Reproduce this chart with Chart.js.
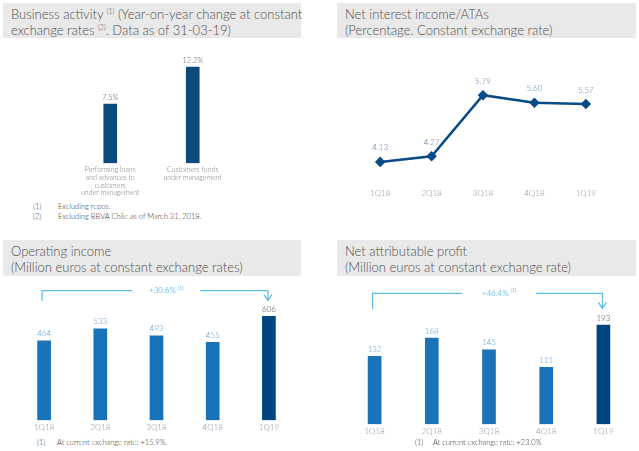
<!DOCTYPE html>
<html>
<head>
    <title>South America - activity and results</title>
    <script src="https://cdn.jsdelivr.net/npm/chart.js"></script>
    <style>
        body {
            margin: 0;
            width: 639px;
            height: 451px;
            position: relative;
            overflow: hidden;
            background: #fff;
            font-family: Lato, "Open Sans", sans-serif;
            color: #4d4d4d;
        }

        .head {
            position: absolute;
            background: #e9e9e9;
            box-sizing: border-box;
            font-size: 13px;
            font-weight: 300;
            color: #505050;
            line-height: 16px;
            padding: 3px 0 0 8px;
            white-space: nowrap;
        }

        .head sup {
            font-size: 7px;
            vertical-align: 5px;
            line-height: 0;
        }

        .note {
            position: absolute;
            font-size: 7.5px;
            font-weight: 300;
            line-height: 10px;
            color: #333;
            white-space: nowrap;
        }

        .note span {
            display: inline-block;
        }

        canvas {
            position: absolute;
        }
    </style>
</head>
<body>

    <div class="head" style="left:3px; top:3px; width:298px; height:35px;">
        Business activity <sup>(1)</sup> (Year-on-year change at constant<br>
        exchange rates <sup>(2)</sup>. Data as of 31-03-19)
    </div>
    <div class="head" style="left:337px; top:3px; width:299px; height:35px;">
        Net interest income/ATAs<br>
        (Percentage. Constant exchange rate)
    </div>
    <div class="head" style="left:3px; top:240px; width:298px; height:36px; padding-top:3px;">
        Operating income<br>
        (Million euros at constant exchange rates)
    </div>
    <div class="head" style="left:337px; top:240px; width:299px; height:36px; padding-top:3px;">
        Net attributable profit<br>
        (Million euros at constant exchange rate)
    </div>

    <canvas id="activity-chart" width="165" height="155" style="left:69px; top:45px;"></canvas>
    <canvas id="nim-chart" width="270" height="132" style="left:348px; top:68px;"></canvas>
    <canvas id="income-chart" width="281" height="155" style="left:16px; top:280px;"></canvas>
    <canvas id="profit-chart" width="286" height="156" style="left:346px; top:283px;"></canvas>

    <div class="note" style="left:33px; top:202px;"><span style="width:25px;">(1)</span>Excluding repos.</div>
    <div class="note" style="left:33px; top:212px;"><span style="width:25px;">(2)</span>Excluding BBVA Chile as of March 31, 2018.</div>
    <div class="note" style="left:37px; top:438px;"><span style="width:20px;">(1)</span>At current exchange rate: +15.9%.</div>
    <div class="note" style="left:415px; top:438px;"><span style="width:18px;">(1)</span>At current exchange rate: +23.0%</div>

    <script>
        // chart values
        const activityLabels = [
            ['Performing loans', 'and advances to', 'customers', 'under management'],
            ['Customers funds', 'under management']
        ];
        const activityValues = [7.5, 12.2];

        const quarters = ['1Q18', '2Q18', '3Q18', '4Q18', '1Q19'];
        const nimValues = [4.13, 4.27, 5.79, 5.60, 5.57];
        const operatingIncome = [464, 533, 493, 455, 606];
        const netProfit = [132, 168, 145, 111, 193];

        const incomeChange = '+30.6%';
        const profitChange = '+46.4%';

        Chart.defaults.font.family = 'Lato, "Open Sans", sans-serif';
        Chart.defaults.animation = false;

        const midBlue = '#1a72b9';
        const darkBlue = '#004481';
        const navy = '#0d4a7e';
        const tickGrey = '#8a96a2';

        // writes the value above every bar / point
        const valueLabels = {
            id: 'valueLabels',
            afterDatasetsDraw(chart, args, opts) {
                const ctx = chart.ctx;
                const meta = chart.getDatasetMeta(0);
                const data = chart.data.datasets[0].data;
                ctx.save();
                ctx.font = '300 ' + (opts.size || 8) + 'px ' + Chart.defaults.font.family;
                ctx.textAlign = 'center';
                ctx.textBaseline = 'middle';
                meta.data.forEach((el, i) => {
                    ctx.fillStyle = Array.isArray(opts.color) ? opts.color[i] : opts.color;
                    ctx.fillText(opts.format(data[i]), el.x, el.y - opts.offset);
                });
                ctx.restore();
            }
        };

        // bracket with the year-on-year change, from first to last bar
        const changeBracket = {
            id: 'changeBracket',
            afterDatasetsDraw(chart, args, opts) {
                if (!opts.text) return;
                const ctx = chart.ctx;
                const meta = chart.getDatasetMeta(0);
                const x1 = meta.data[0].x - 2;
                const x2 = meta.data[meta.data.length - 1].x - 1;
                const y = chart.chartArea.top;
                const tx = x1 + (x2 - x1) * opts.textAt;
                ctx.save();
                ctx.strokeStyle = opts.color;
                ctx.lineWidth = 1.2;
                ctx.beginPath();
                ctx.moveTo(x1, y + opts.leftDrop);
                ctx.lineTo(x1, y);
                ctx.lineTo(tx - opts.gap, y);
                ctx.moveTo(tx + opts.gap, y);
                ctx.lineTo(x2, y);
                ctx.lineTo(x2, y + opts.rightDrop);
                ctx.moveTo(x2 - 4, y + opts.rightDrop - 6);
                ctx.lineTo(x2, y + opts.rightDrop);
                ctx.lineTo(x2 + 4, y + opts.rightDrop - 6);
                ctx.stroke();

                ctx.fillStyle = opts.textColor;
                ctx.textBaseline = 'middle';
                ctx.font = '8px ' + Chart.defaults.font.family;
                const w = ctx.measureText(opts.text + ' ').width;
                ctx.font = '5px ' + Chart.defaults.font.family;
                const ws = ctx.measureText('(1)').width;
                const start = tx - (w + ws) / 2;
                ctx.font = '8px ' + Chart.defaults.font.family;
                ctx.textAlign = 'left';
                ctx.fillText(opts.text + ' ', start, y);
                ctx.font = '5px ' + Chart.defaults.font.family;
                ctx.fillText('(1)', start + w, y - 2.5);
                ctx.restore();
            }
        };

        function xAxis(size, padding, color) {
            return {
                offset: true,
                grid: { display: false, drawTicks: false },
                border: { display: false },
                ticks: {
                    color: color || tickGrey,
                    font: { size: size, lineHeight: 1.1, weight: '300' },
                    padding: padding,
                    maxRotation: 0,
                    autoSkip: false
                }
            };
        }

        // Business activity
        new Chart(document.getElementById('activity-chart'), {
            type: 'bar',
            data: {
                labels: activityLabels,
                datasets: [{ data: activityValues, backgroundColor: navy, barThickness: 13 }]
            },
            options: {
                responsive: false,
                layout: { padding: { top: 8 } },
                plugins: {
                    legend: { display: false },
                    tooltip: { enabled: false },
                    valueLabels: { offset: 6.5, color: '#555', size: 7.5, format: v => v.toFixed(1) + '%' }
                },
                scales: {
                    x: xAxis(7, 3, '#6f7881'),
                    y: { display: false, min: 0, max: 14 }
                }
            },
            plugins: [valueLabels]
        });

        // Net interest income / ATAs
        new Chart(document.getElementById('nim-chart'), {
            type: 'line',
            data: {
                labels: quarters,
                datasets: [{
                    data: nimValues,
                    borderColor: '#0b4a88',
                    backgroundColor: '#0b4a88',
                    borderWidth: 2.5,
                    pointStyle: 'rectRot',
                    pointRadius: 3.5,
                    tension: 0
                }]
            },
            options: {
                responsive: false,
                layout: { padding: { top: 10.7 } },
                plugins: {
                    legend: { display: false },
                    tooltip: { enabled: false },
                    valueLabels: { offset: 14, color: '#5f80a8', size: 8, format: v => v.toFixed(2) }
                },
                scales: {
                    x: xAxis(8, 2),
                    y: { display: false, min: 3.5, max: 6.2 }
                }
            },
            plugins: [valueLabels]
        });

        // Operating income
        new Chart(document.getElementById('income-chart'), {
            type: 'bar',
            data: {
                labels: quarters,
                datasets: [{
                    data: operatingIncome,
                    backgroundColor: [midBlue, midBlue, midBlue, midBlue, darkBlue],
                    barThickness: 13
                }]
            },
            options: {
                responsive: false,
                layout: { padding: { top: 10.7 } },
                plugins: {
                    legend: { display: false },
                    tooltip: { enabled: false },
                    valueLabels: { offset: 7, color: ['#5b9ad2', '#5b9ad2', '#5b9ad2', '#5b9ad2', '#444'], size: 8, format: v => String(v) },
                    changeBracket: { text: incomeChange, color: '#5fbdea', textColor: '#7cc6ee', textAt: 0.55, gap: 34, leftDrop: 10, rightDrop: 10 }
                },
                scales: {
                    x: xAxis(8, 3),
                    y: { display: false, min: 0, max: 756 }
                }
            },
            plugins: [valueLabels, changeBracket]
        });

        // Net attributable profit
        new Chart(document.getElementById('profit-chart'), {
            type: 'bar',
            data: {
                labels: quarters,
                datasets: [{
                    data: netProfit,
                    backgroundColor: [midBlue, midBlue, midBlue, midBlue, darkBlue],
                    barThickness: 13
                }]
            },
            options: {
                responsive: false,
                layout: { padding: { top: 10.3 } },
                plugins: {
                    legend: { display: false },
                    tooltip: { enabled: false },
                    valueLabels: { offset: 7, color: ['#5b9ad2', '#5b9ad2', '#5b9ad2', '#5b9ad2', '#444'], size: 8, format: v => String(v) },
                    changeBracket: { text: profitChange, color: '#5fbdea', textColor: '#7cc6ee', textAt: 0.55, gap: 37, leftDrop: 16, rightDrop: 15 }
                },
                scales: {
                    x: xAxis(8, 3),
                    y: { display: false, min: 0, max: 255 }
                }
            },
            plugins: [valueLabels, changeBracket]
        });
    </script>

</body>
</html>
